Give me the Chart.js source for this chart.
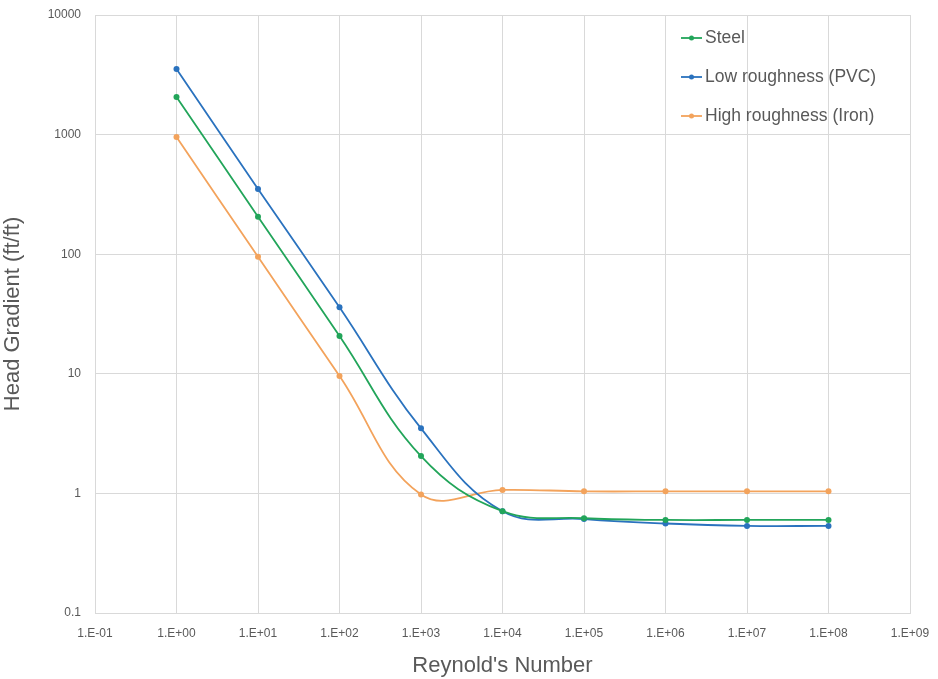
<!DOCTYPE html>
<html>
<head>
<title>Head gradient vs Reynold's number</title>
<style>
  html, body { margin: 0; padding: 0; background: #fff; }
  #wrap { width: 938px; height: 679px; }
</style>
</head>
<body>
<div id="wrap"><canvas id="chart"></canvas></div>
<script src="https://cdn.jsdelivr.net/npm/chart.js@4/dist/chart.umd.min.js"></script>
<script>
// reynolds numbers (x) and head gradients (y)
const reynolds = [1e0, 1e1, 1e2, 1e3, 1e4, 1e5, 1e6, 1e7, 1e8];
const steel = [2060, 206, 20.7, 2.05, 0.71, 0.62, 0.60, 0.60, 0.60];
const pvc = [3540, 351, 36, 3.5, 0.71, 0.61, 0.56, 0.535, 0.535];
const iron = [955, 95, 9.6, 0.98, 1.07, 1.04, 1.04, 1.04, 1.04];
const seriesNames = ["Steel", "Low roughness (PVC)", "High roughness (Iron)"];
const seriesColors = ["#22a55a", "#2a72be", "#f3a35c"];
const xDecades = [1e-1, 1e0, 1e1, 1e2, 1e3, 1e4, 1e5, 1e6, 1e7, 1e8, 1e9];
const yDecades = [0.1, 1, 10, 100, 1000, 10000];

const FONT = "'Liberation Sans Narrow', 'Liberation Sans', sans-serif";
const GREY = "#595959";

function pts(ys) {
  return reynolds.map((x, i) => ({ x: x, y: ys[i] }));
}

function sciLabel(v) {
  let e = Math.round(Math.log10(v));
  let s = e < 0 ? "-" : "+";
  let n = Math.abs(e);
  return "1.E" + s + (n < 10 ? "0" + n : n);
}

const datasets = [steel, pvc, iron].map((ys, i) => ({
  label: seriesNames[i],
  data: pts(ys),
  showLine: true,
  borderColor: seriesColors[i],
  backgroundColor: seriesColors[i],
  borderWidth: 1.8,
  pointRadius: 3,
  pointBorderWidth: 0,
  tension: 0.4
}));

// legend drawn inside the plot, top right
const innerLegend = {
  id: "innerLegend",
  afterDraw(chart) {
    const ctx = chart.ctx;
    ctx.save();
    ctx.font = "17.5px " + FONT;
    ctx.textBaseline = "middle";
    seriesNames.forEach((name, i) => {
      const y = 38 + i * 39;
      const x = 681;
      ctx.strokeStyle = seriesColors[i];
      ctx.lineWidth = 1.8;
      ctx.beginPath();
      ctx.moveTo(x, y);
      ctx.lineTo(x + 21, y);
      ctx.stroke();
      ctx.fillStyle = seriesColors[i];
      ctx.beginPath();
      ctx.arc(x + 10.5, y, 2.5, 0, Math.PI * 2);
      ctx.fill();
      ctx.fillStyle = GREY;
      ctx.fillText(name, x + 24, y);
    });
    ctx.restore();
  }
};

new Chart(document.getElementById("chart"), {
  type: "scatter",
  data: { datasets: datasets },
  plugins: [innerLegend],
  options: {
    responsive: true,
    maintainAspectRatio: false,
    animation: false,
    layout: { padding: { top: 15, right: 28, left: 0, bottom: 0 } },
    plugins: {
      legend: { display: false },
      tooltip: { enabled: false }
    },
    scales: {
      x: {
        type: "logarithmic",
        min: 1e-1,
        max: 1e9,
        afterBuildTicks: (axis) => { axis.ticks = xDecades.map(v => ({ value: v })); },
        afterFit: (axis) => {
          axis.height = 66;
          axis.paddingLeft = 0;
          axis.paddingRight = 0;
        },
        grid: { color: "#d9d9d9", lineWidth: 1, drawTicks: false },
        border: { color: "#d9d9d9" },
        ticks: {
          callback: (v) => sciLabel(v),
          color: GREY,
          font: { family: FONT, size: 12 },
          padding: 13,
          maxRotation: 0,
          autoSkip: false
        },
        title: {
          display: true,
          text: "Reynold's Number",
          color: GREY,
          font: { family: FONT, size: 22 },
          padding: { top: 6, bottom: 0 }
        }
      },
      y: {
        type: "logarithmic",
        min: 0.1,
        max: 10000,
        afterBuildTicks: (axis) => { axis.ticks = yDecades.map(v => ({ value: v })); },
        afterFit: (axis) => {
          axis.width = 95;
          axis.paddingTop = 0;
          axis.paddingBottom = 0;
        },
        grid: { color: "#d9d9d9", lineWidth: 1, drawTicks: false },
        border: { color: "#d9d9d9" },
        ticks: {
          callback: (v) => String(v),
          color: GREY,
          font: { family: FONT, size: 12 },
          padding: 14,
          autoSkip: false
        },
        title: {
          display: true,
          text: "Head Gradient (ft/ft)",
          color: GREY,
          font: { family: FONT, size: 22 },
          padding: { top: 0, bottom: 6 }
        }
      }
    }
  }
});
</script>
</body>
</html>
